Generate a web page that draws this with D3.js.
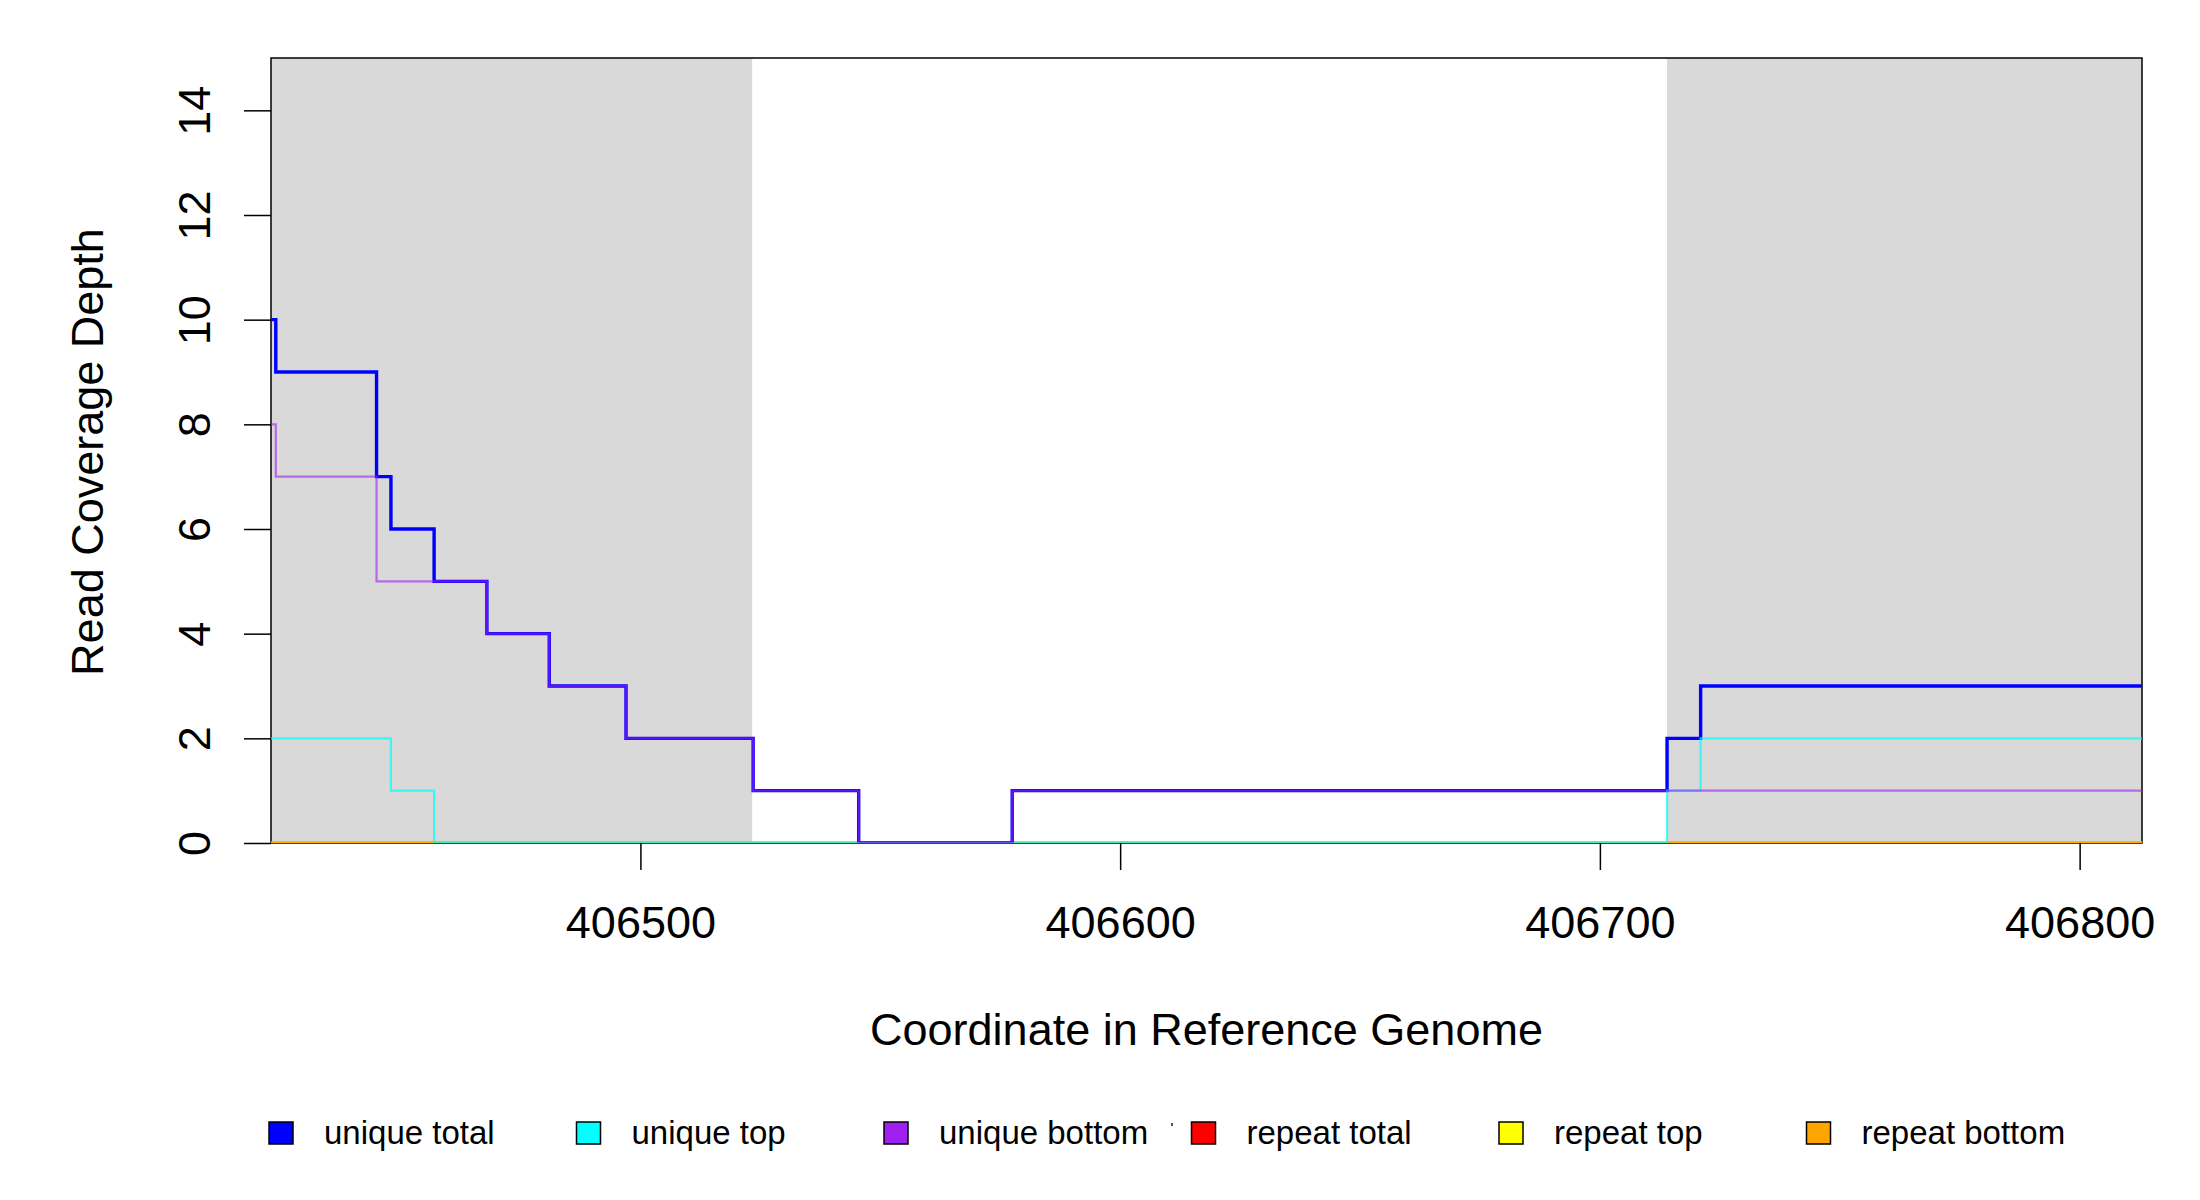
<!DOCTYPE html>
<html>
<head>
<meta charset="utf-8">
<script src="https://cdnjs.cloudflare.com/ajax/libs/d3/7.8.5/d3.min.js"></script>
<style>
  body { margin: 0; background: #fff; }
  text { font-family: "Liberation Sans", Arial, sans-serif; fill: #000; }
</style>
</head>
<body>
<div id="chart"></div>
<script>
// Coverage values as steps: value holds from each x until the next x
var xDomain = [406423, 406813];
var yDomain = [0, 15];
var xTicks = [406500, 406600, 406700, 406800];
var yTicks = [0, 2, 4, 6, 8, 10, 12, 14];

// shaded (gray) regions of the reference
var regionStart = [406423, 406714];
var regionEnd = [406523.3, 406813];

var uniqueTotalX = [406423, 406424, 406445, 406448, 406457, 406468, 406481, 406497, 406523.5, 406545.5, 406577.5, 406714, 406721];
var uniqueTotalY = [10, 9, 7, 6, 5, 4, 3, 2, 1, 0, 1, 2, 3];

var uniqueTopX = [406423, 406448, 406457, 406714, 406721];
var uniqueTopY = [2, 1, 0, 1, 2];

var uniqueBottomX = [406423, 406424, 406445, 406468, 406481, 406497, 406523.5, 406545.5, 406577.5];
var uniqueBottomY = [8, 7, 5, 4, 3, 2, 1, 0, 1];

var repeatTotalX = [406423];
var repeatTotalY = [0];
var repeatTopX = [406423];
var repeatTopY = [0];
var repeatBottomX = [406423];
var repeatBottomY = [0];

var seriesNames = ["unique total", "unique top", "unique bottom", "repeat total", "repeat top", "repeat bottom"];
var seriesColors = ["#0000ff", "#00ffff", "#a020f0", "#ff0000", "#ffff00", "#ffa500"];

var width = 2200, height = 1200;
// (don't call these "top": it clashes with window.top)
var plotLeft = 271, plotRight = 2142, plotTop = 58, plotBottom = 843;

var svg = d3.select("#chart").append("svg")
    .attr("width", width)
    .attr("height", height);

var x = d3.scaleLinear().domain(xDomain).range([plotLeft, plotRight]);
var y = d3.scaleLinear().domain(yDomain).range([plotBottom, plotTop]);

svg.append("defs").append("clipPath")
    .attr("id", "plotclip")
  .append("rect")
    .attr("x", plotLeft).attr("y", plotTop)
    .attr("width", plotRight - plotLeft).attr("height", plotBottom - plotTop);

// gray regions
svg.selectAll("rect.region")
    .data(regionStart)
  .enter().append("rect")
    .attr("class", "region")
    .attr("x", function(d){ return x(d); })
    .attr("y", plotTop)
    .attr("width", function(d, i){ return x(regionEnd[i]) - x(d); })
    .attr("height", plotBottom - plotTop)
    .attr("fill", "#d9d9d9");

// frame
svg.append("rect")
    .attr("x", plotLeft).attr("y", plotTop)
    .attr("width", plotRight - plotLeft).attr("height", plotBottom - plotTop)
    .attr("fill", "none")
    .attr("stroke", "#000")
    .attr("stroke-width", 1.5);

function toPoints(xs, ys){
    var pts = xs.map(function(v, i){ return [v, ys[i]]; });
    pts.push([xDomain[1], ys[ys.length - 1]]);
    return pts;
}

var line = d3.line()
    .x(function(d){ return x(d[0]); })
    .y(function(d){ return y(d[1]); })
    .curve(d3.curveStepAfter);

// repeat series drawn first, unique series on top
var series = [
    {pts: toPoints(repeatTotalX, repeatTotalY), color: seriesColors[3], w: 3.2, op: 0.8},
    {pts: toPoints(repeatTopX, repeatTopY), color: seriesColors[4], w: 3.2, op: 0.8},
    {pts: toPoints(repeatBottomX, repeatBottomY), color: seriesColors[5], w: 3.2, op: 0.8},
    {pts: toPoints(uniqueTotalX, uniqueTotalY), color: seriesColors[0], w: 3.4, op: 1},
    {pts: toPoints(uniqueTopX, uniqueTopY), color: seriesColors[1], w: 2.2, op: 0.7},
    {pts: toPoints(uniqueBottomX, uniqueBottomY), color: seriesColors[2], w: 2.2, op: 0.6}
];

var lines = svg.append("g").attr("clip-path", "url(#plotclip)");
series.forEach(function(s){
    lines.append("path")
        .attr("d", line(s.pts))
        .attr("fill", "none")
        .attr("stroke", s.color)
        .attr("stroke-width", s.w)
        .attr("stroke-opacity", s.op);
});

// x axis
var xAxis = svg.append("g")
    .attr("transform", "translate(0," + plotBottom + ")")
    .call(d3.axisBottom(x).tickValues(xTicks).tickFormat(d3.format("d"))
          .tickSize(27).tickSizeOuter(0).tickPadding(36));
xAxis.select(".domain").remove();
xAxis.selectAll(".tick line").attr("stroke", "#000").attr("stroke-width", 1.5);
xAxis.selectAll(".tick text").attr("font-size", 45)
    .style("font-family", "'Liberation Sans', Arial, sans-serif");

// y axis, labels rotated like R's default
var yAxis = svg.append("g")
    .attr("transform", "translate(" + plotLeft + ",0)")
    .call(d3.axisLeft(y).tickValues(yTicks).tickSize(27).tickSizeOuter(0));
yAxis.select(".domain").remove();
yAxis.selectAll(".tick line").attr("stroke", "#000").attr("stroke-width", 1.5);
yAxis.selectAll(".tick text")
    .attr("transform", "rotate(-90)")
    .attr("x", 0)
    .attr("y", -61)
    .attr("dy", null)
    .attr("text-anchor", "middle")
    .attr("font-size", 45)
    .style("font-family", "'Liberation Sans', Arial, sans-serif");

// axis titles
svg.append("text")
    .attr("x", (plotLeft + plotRight) / 2)
    .attr("y", 1045)
    .attr("text-anchor", "middle")
    .attr("font-size", 45)
    .text("Coordinate in Reference Genome");

svg.append("text")
    .attr("transform", "translate(103," + 452 + ") rotate(-90)")
    .attr("text-anchor", "middle")
    .attr("font-size", 45)
    .text("Read Coverage Depth");

// legend
var legend = svg.append("g");
var item = legend.selectAll("g")
    .data(seriesNames)
  .enter().append("g")
    .attr("transform", function(d, i){ return "translate(" + (269 + i * 307.5) + ",0)"; });
item.append("rect")
    .attr("x", 0).attr("y", 1122)
    .attr("width", 24).attr("height", 22)
    .attr("fill", function(d, i){ return seriesColors[i]; })
    .attr("stroke", "#000")
    .attr("stroke-width", 1.5);
item.append("text")
    .attr("x", 55).attr("y", 1144)
    .attr("font-size", 33)
    .text(function(d){ return d; });

// tiny speck seen beside the legend
legend.append("rect")
    .attr("x", 1171).attr("y", 1123)
    .attr("width", 2).attr("height", 3)
    .attr("fill", "#555");
</script>
</body>
</html>
